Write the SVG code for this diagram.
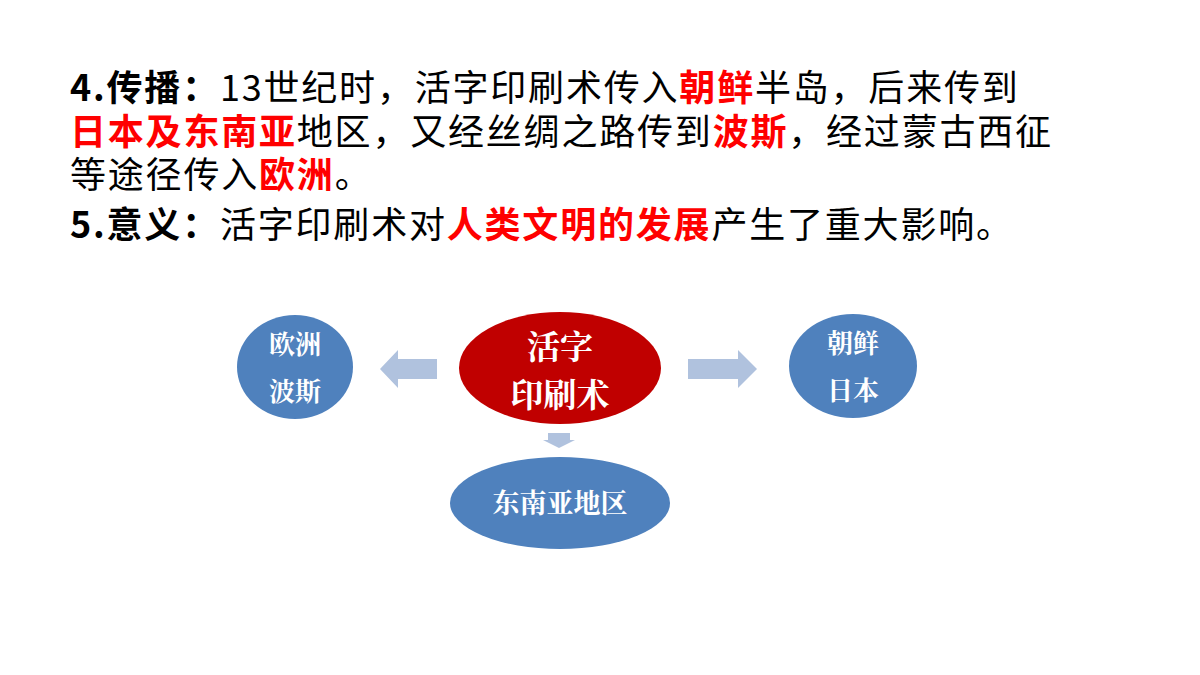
<svg xmlns="http://www.w3.org/2000/svg" width="1200" height="675" viewBox="0 0 1200 675">
<style>
.t{font-family:"Noto Sans CJK SC","Noto Sans",sans-serif;font-size:36px;letter-spacing:1.8px;fill:#000}
.b{font-weight:bold}
.r{fill:#ff0000;font-weight:bold}
.n{font-family:"Noto Serif CJK SC","Noto Sans CJK SC",serif;font-weight:bold;fill:#fff;text-anchor:middle}
.blue{fill:#4f81bd}
.arr{fill:#b0c2de}
</style>
<rect width="1200" height="675" fill="#fff"/>
<text class="t" x="70" y="101"><tspan class="b">4.传播：</tspan>13世纪时，活字印刷术传入<tspan class="r">朝鲜</tspan>半岛，后来传到</text>
<text class="t" x="70" y="145"><tspan class="r">日本及东南亚</tspan>地区，又经丝绸之路传到<tspan class="r">波斯</tspan>，经过蒙古西征</text>
<text class="t" x="70" y="188"><tspan>等途径传入</tspan><tspan class="r">欧洲</tspan>。</text>
<text class="t" x="70" y="238"><tspan class="b">5.意义：</tspan>活字印刷术对<tspan class="r">人类文明的发展</tspan>产生了重大影响。</text>
<g id="connectors">
<polygon class="arr" points="437,359 398,359 398,350 380,369 398,388 398,379 437,379"/>
<polygon class="arr" points="688,359 738,359 738,350 757,369 738,388 738,379 688,379"/>
<polygon class="arr" points="548,433 570,433 570,440 575,440 559,448 543,440 548,440"/>
</g>
<g id="center"><ellipse cx="560" cy="368" rx="101" ry="56" fill="#c00000"/>
<text class="n" x="560" y="359" font-size="33">活字</text><text class="n" x="560" y="407" font-size="33">印刷术</text></g>
<g id="left"><ellipse class="blue" cx="295" cy="367" rx="58" ry="52"/>
<text class="n" x="295" y="354" font-size="26">欧洲</text><text class="n" x="295" y="401" font-size="26">波斯</text></g>
<g id="right"><ellipse class="blue" cx="853" cy="366" rx="64" ry="52"/>
<text class="n" x="853" y="353" font-size="26">朝鲜</text><text class="n" x="853" y="400" font-size="26">日本</text></g>
<g id="bottom"><ellipse class="blue" cx="560" cy="503" rx="110" ry="46"/>
<text class="n" x="560" y="513" font-size="27">东南亚地区</text></g>
</svg>
